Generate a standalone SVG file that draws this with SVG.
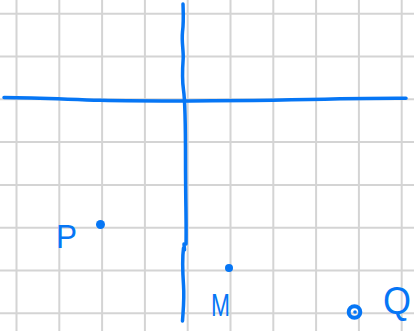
<svg xmlns="http://www.w3.org/2000/svg" width="414" height="331" viewBox="0 0 414 331">
<style>
.grid line{stroke:#d4d4d4;stroke-width:2}
.ink{fill:none;stroke:#0676f5;stroke-width:3.5;stroke-linecap:round;stroke-linejoin:round}
.dot{fill:#0676f5}
.lbl{fill:#0676f5;font-family:"Liberation Sans",Arial,sans-serif}
</style>
<rect width="414" height="331" fill="#ffffff"/>
<g class="grid">
<line x1="16.5" y1="0" x2="16.5" y2="331"/>
<line x1="59.3" y1="0" x2="59.3" y2="331"/>
<line x1="102.1" y1="0" x2="102.1" y2="331"/>
<line x1="144.9" y1="0" x2="144.9" y2="331"/>
<line x1="187.7" y1="0" x2="187.7" y2="331"/>
<line x1="230.5" y1="0" x2="230.5" y2="331"/>
<line x1="273.3" y1="0" x2="273.3" y2="331"/>
<line x1="316.1" y1="0" x2="316.1" y2="331"/>
<line x1="358.9" y1="0" x2="358.9" y2="331"/>
<line x1="401.7" y1="0" x2="401.7" y2="331"/>
<line x1="0" y1="13.7" x2="414" y2="13.7"/>
<line x1="0" y1="56.5" x2="414" y2="56.5"/>
<line x1="0" y1="99.3" x2="414" y2="99.3"/>
<line x1="0" y1="142.1" x2="414" y2="142.1"/>
<line x1="0" y1="184.9" x2="414" y2="184.9"/>
<line x1="0" y1="227.7" x2="414" y2="227.7"/>
<line x1="0" y1="270.5" x2="414" y2="270.5"/>
<line x1="0" y1="313.3" x2="414" y2="313.3"/>
</g>
<g id="axes">
<path class="ink" d="M4,97.5 C40,97.8 70,99.5 100,100.3 C130,101 160,101 190,101 C240,100.7 290,100.2 340,98.8 C370,98.2 390,98.3 406,98.3"/>
<path class="ink" d="M183,4 C183.3,14 183.8,22 182.5,32 C181.5,42 183.5,50 183.2,58 C182.5,68 182,80 183.5,90 C185,100 185.5,120 185.5,160 C185.5,200 186.5,225 186,244"/>
<path class="ink" d="M184,244 L184.5,250 M183.5,248 C182,260 182.5,270 183.5,285 C184.5,300 183,312 182.5,321"/>
</g>
<g id="P">
<circle class="dot" cx="100.5" cy="224.5" r="4.5"/>
<text class="lbl" x="56" y="248" font-size="34" textLength="21" lengthAdjust="spacingAndGlyphs">P</text>
</g>
<g id="M">
<circle class="dot" cx="229" cy="268" r="4"/>
<text class="lbl" x="211" y="316" font-size="32" textLength="19" lengthAdjust="spacingAndGlyphs">M</text>
</g>
<g id="Q">
<circle cx="354.5" cy="312" r="5.8" fill="none" stroke="#0676f5" stroke-width="4"/>
<circle class="dot" cx="355" cy="312" r="1.8"/>
<text class="lbl" x="383" y="314" font-size="38" textLength="28" lengthAdjust="spacingAndGlyphs">Q</text>
</g>
</svg>
